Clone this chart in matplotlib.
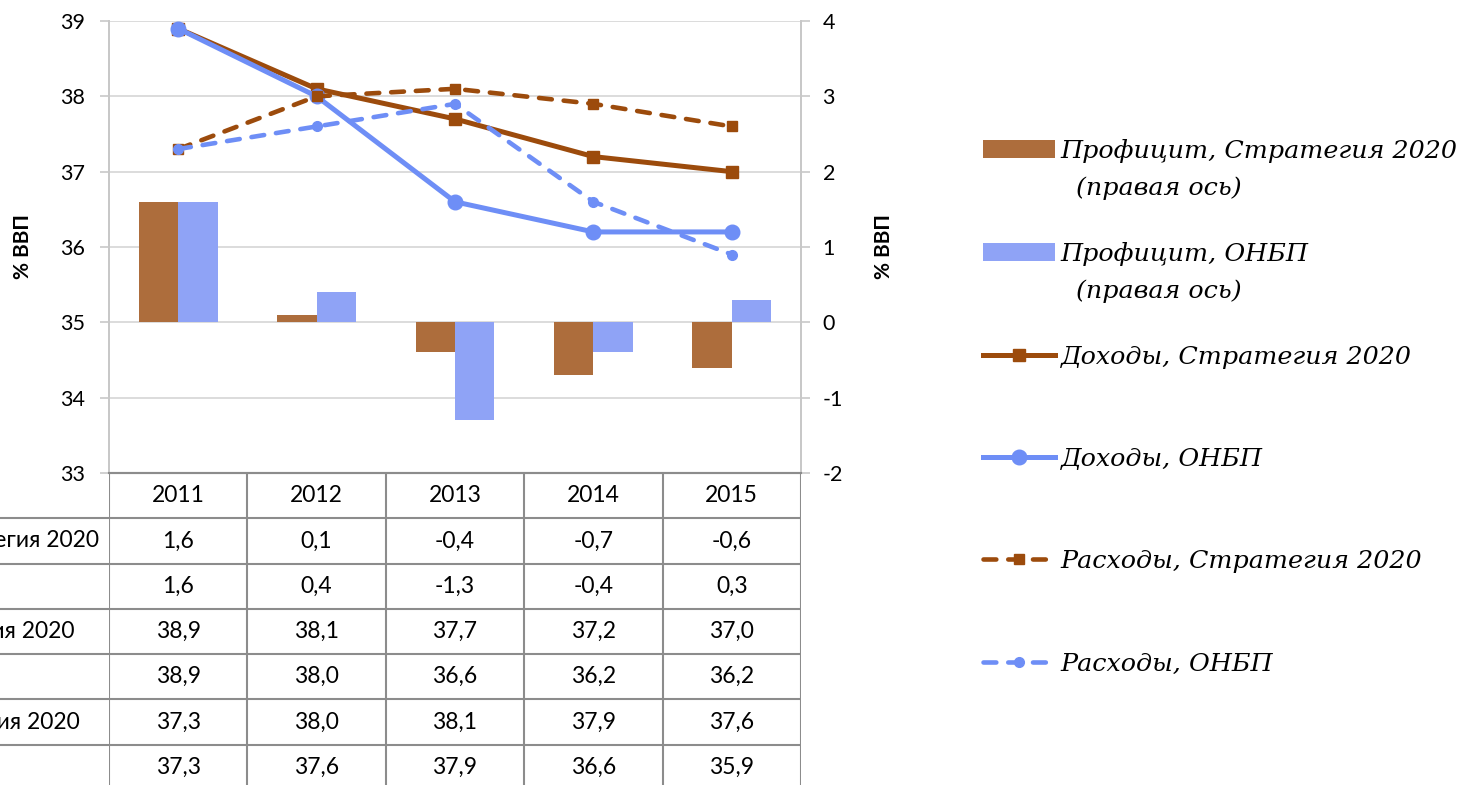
import matplotlib.pyplot as plt
import numpy as np

plt.rcParams['font.family'] = ['Lato', 'Noto Sans']
plt.rcParams['axes.unicode_minus'] = False

# данные (% ВВП)
years = ['2011', '2012', '2013', '2014', '2015']
surplus_strat = [1.6, 0.1, -0.4, -0.7, -0.6]
surplus_onbp = [1.6, 0.4, -1.3, -0.4, 0.3]
rev_strat = [38.9, 38.1, 37.7, 37.2, 37.0]
rev_onbp = [38.9, 38.0, 36.6, 36.2, 36.2]
exp_strat = [37.3, 38.0, 38.1, 37.9, 37.6]
exp_onbp = [37.3, 37.6, 37.9, 36.6, 35.9]

row_names = ['Профицит, Стратегия 2020', 'Профицит, ОНБП',
             'Доходы, Стратегия 2020', 'Доходы, ОНБП',
             'Расходы, Стратегия 2020', 'Расходы, ОНБП']
legend_names = row_names

BROWN_BAR = '#ad6d3c'
BLUE_BAR = '#8fa3f6'
BROWN = '#9c4b0c'
BLUE = '#6e8ef6'
GRID = '#d9d9d9'
TABLE = '#8c8c8c'

W, H = 1483, 785
fig = plt.figure(figsize=(W / 100, H / 100), dpi=100)


def box(x0, y0, x1, y1):
    return [x0 / W, 1 - y1 / H, (x1 - x0) / W, (y1 - y0) / H]


ax = fig.add_axes(box(109, 21, 801, 473))
ax2 = ax.twinx()
x = np.arange(len(years))

# столбцы на правой оси
bw = 0.285
b1 = ax2.bar(x - bw / 2, surplus_strat, bw, color=BROWN_BAR, zorder=2)
b2 = ax2.bar(x + bw / 2, surplus_onbp, bw, color=BLUE_BAR, zorder=2)
ax2.set_ylim(-2, 4)
ax2.set_yticks(range(-2, 5))
ax2.grid(axis='y', color=GRID, lw=1.3)
ax2.set_axisbelow(True)

# линии на левой оси
ax.set_zorder(ax2.get_zorder() + 1)
ax.patch.set_visible(False)
dash = (0, (2.8, 2.6))
l1, = ax.plot(x, rev_strat, color=BROWN, lw=3.6, marker='s', ms=9)
l2, = ax.plot(x, rev_onbp, color=BLUE, lw=3.6, marker='o', ms=10.5)
l3, = ax.plot(x, exp_strat, color=BROWN, lw=3.3, ls=dash,
              dash_capstyle='round', marker='s', ms=7.5)
l4, = ax.plot(x, exp_onbp, color=BLUE, lw=3.3, ls=dash,
              dash_capstyle='round', marker='o', ms=7)
ax.set_ylim(33, 39)
ax.set_xlim(-0.5, 4.5)
ax.set_xticks([])

for a in (ax, ax2):
    for s in ('left', 'right', 'top'):
        a.spines[s].set_color('#c8c8c8')
        a.spines[s].set_linewidth(1.3)
    a.spines['top'].set_visible(False)
    a.spines['bottom'].set_color(TABLE)
    a.spines['bottom'].set_linewidth(1.5)
    a.tick_params(axis='y', length=6.5, width=1.2, color='#c8c8c8',
                  labelsize=15.5)
ax.tick_params(axis='y', pad=11)
ax2.tick_params(axis='y', pad=9)

ax.set_ylabel('% ВВП', fontsize=15, fontweight='bold')
ax.yaxis.set_label_coords((33 - 109) / 692, 0.5)
ax2.set_ylabel('% ВВП', fontsize=15, fontweight='bold', rotation=90)
ax2.yaxis.set_label_coords((874 - 109) / 692, 0.5)

# таблица данных
tax = fig.add_axes(box(109, 473, 801, 790))
tax.set_xlim(-0.5, 4.5)
tax.set_ylim(7, 0)
tax.axis('off')
tax.vlines(np.arange(len(years) + 1) - 0.5, 0, 7, color=TABLE, lw=1.5)
tax.hlines(range(1, 7), -3, 4.5, color=TABLE, lw=1.5, clip_on=False)
for i, yr in enumerate(years):
    tax.text(i, 0.5, yr, ha='center', va='center', fontsize=16.5)

rows = [surplus_strat, surplus_onbp, rev_strat, rev_onbp, exp_strat, exp_onbp]
for r, vals in enumerate(rows, start=1):
    for i, v in enumerate(vals):
        tax.text(i, r + 0.5, f'{v:.1f}'.replace('.', ','),
                 ha='center', va='center', fontsize=16.5)

# подписи строк обрезаны слева, как в оригинале
renderer = fig.canvas.get_renderer()
probe = fig.text(0, 0, row_names[2], fontsize=16.5)
wpx = probe.get_window_extent(renderer).width
probe.remove()
left_px = 75 - wpx
xlab = -0.5 + (left_px - 109) / (692 / 5)
for r, name in enumerate(row_names, start=1):
    tax.text(xlab, r + 0.5, name, ha='left', va='center', fontsize=16.5,
             clip_on=False)

# легенда
leg = fig.legend([b1, b2, l1, l2, l3, l4], legend_names,
                 loc='upper left', bbox_to_anchor=(983 / W, 1 - 139 / H),
                 frameon=False, prop={'family': 'DejaVu Serif',
                                      'style': 'italic', 'size': 18.3},
                 labelspacing=3.12, handlelength=2.85, handletextpad=0.2,
                 borderpad=0, borderaxespad=0, numpoints=1)
for t in leg.get_texts()[:2]:
    fig.canvas.draw()
    ax.annotate('(правая ось)', xy=(0, 0.5), xycoords=t,
                xytext=(11, -26.6), textcoords='offset points',
                ha='left', va='center', fontsize=18.3,
                family='DejaVu Serif', style='italic', annotation_clip=False)

fig.savefig('out.png', dpi=100)
